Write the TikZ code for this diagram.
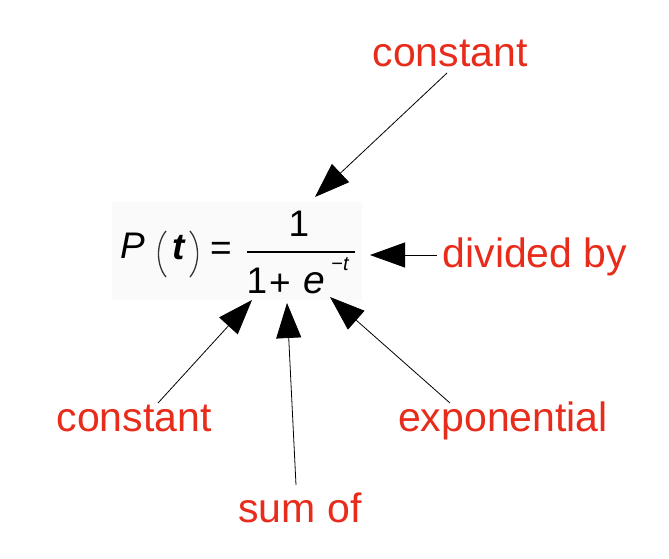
\documentclass[tikz,border=0pt]{standalone}
\usepackage{fontspec}
\setmainfont{Liberation Sans}
\usetikzlibrary{arrows.meta}
\definecolor{lblred}{RGB}{232,44,28}
\definecolor{eqbg}{RGB}{250,250,250}
\tikzset{
  lbl/.style={text=lblred, inner sep=0pt, anchor=base, font=\fontsize{41}{49}\selectfont},
  eq/.style={text=black, inner sep=0pt, anchor=base, font=\fontsize{37}{44}\selectfont},
  eqsup/.style={text=black, inner sep=0pt, anchor=base, font=\fontsize{20}{24}\selectfont},
  pointer/.style={draw=black, line width=0.8pt, -{Triangle[length=35pt,width=25pt]}},
  paren/.style={draw=black!80, line width=1.3pt},
}
\begin{document}
\begin{tikzpicture}[x=1pt,y=-1pt]
\useasboundingbox (0,0) rectangle (669,558);
% faint background of the formula
\fill[eqbg] (112,202) rectangle (362,300);
% formula
\node[eq] (P) at (133,258) {\itshape P};
\draw[paren] (166,231) .. controls (156,243) and (156,265) .. (166,277);
\draw[paren] (190,231) .. controls (200,243) and (200,265) .. (190,277);
\node[eq] (t) at (179,259) {\itshape\bfseries t};
\node[eq, anchor=center] (eqs) at (221,251) {=};
\draw[black, line width=1.6pt] (247,252) -- (355,252);
\node[eq] (num) at (299,236) {1};
\node[eq] (d1) at (257,293) {1};
\node[eq, anchor=center] (plus) at (280,285) {+};
\node[eq, font=\fontsize{39}{46}\selectfont] (e) at (314,293) {\itshape e};
\node[eqsup] (mt) at (340,270) {−\itshape t};
% labels
\node[lbl] (ctop) at (450,66) {constant};
\node[lbl] (div) at (535,267) {divided by};
\node[lbl] (cleft) at (134,431) {constant};
\node[lbl] (expo) at (503,431) {exponential};
\node[lbl] (sum) at (300,522) {sum of};
% connector ends
\coordinate (s1) at (447,73);  \coordinate (h1) at (315,197);
\coordinate (s2) at (437,255); \coordinate (h2) at (370,255);
\coordinate (s3) at (158,403); \coordinate (h3) at (252,300);
\coordinate (s4) at (296,485); \coordinate (h4) at (287,303);
\coordinate (s5) at (450,403); \coordinate (h5) at (330,297);
\draw[pointer] (s1) -- (h1);
\draw[pointer] (s2) -- (h2);
\draw[pointer] (s3) -- (h3);
\draw[pointer] (s4) -- (h4);
\draw[pointer] (s5) -- (h5);
\end{tikzpicture}
\end{document}
